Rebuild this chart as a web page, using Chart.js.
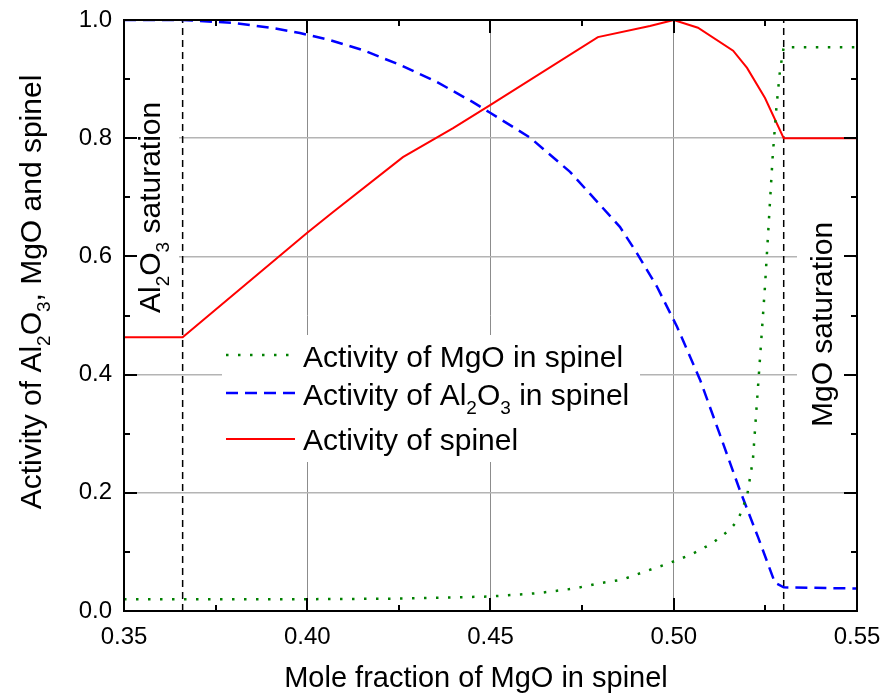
<!DOCTYPE html>
<html>
<head>
<meta charset="utf-8">
<script src="https://cdn.jsdelivr.net/npm/chart.js@4.4.1/dist/chart.umd.min.js"></script>
<style>
  html, body { margin: 0; padding: 0; background: #fff; }
  #wrap { width: 885px; height: 699px; }
</style>
</head>
<body>
<div id="wrap"><canvas id="c" width="885" height="699"></canvas></div>
<script>
// Activity of MgO in spinel
const mgoX = [0.35, 0.366, 0.40, 0.4261, 0.4496, 0.4627, 0.4728, 0.4793, 0.4859, 0.4922, 0.4984, 0.5047,
              0.5104, 0.5154, 0.5176, 0.52, 0.5216, 0.523, 0.5249, 0.527, 0.528, 0.529, 0.53, 0.55];
const mgoY = [0.02, 0.02, 0.02, 0.021, 0.0245, 0.030, 0.038, 0.0465, 0.053, 0.067, 0.080, 0.0955,
              0.114, 0.138, 0.155, 0.194, 0.256, 0.38, 0.55, 0.77, 0.851, 0.915, 0.954, 0.954];

// Activity of Al2O3 in spinel
const alX = [0.35, 0.366, 0.38, 0.39, 0.398, 0.4062, 0.4152, 0.4253, 0.4354, 0.4452, 0.4499, 0.4608,
             0.4717, 0.4799, 0.4853, 0.4899, 0.4954, 0.5009, 0.5072, 0.5125, 0.518, 0.523, 0.5276, 0.53, 0.55];
const alY = [1.0, 1.0, 0.995, 0.987, 0.978, 0.966, 0.949, 0.924, 0.895, 0.861, 0.843, 0.801,
             0.743, 0.687, 0.65, 0.606, 0.549, 0.481, 0.391, 0.30, 0.205, 0.125, 0.048, 0.040, 0.038];

// Activity of spinel
const spX = [0.35, 0.366, 0.40, 0.4068, 0.4261, 0.4398, 0.4499, 0.4793, 0.4935, 0.50,
             0.5066, 0.5162, 0.52, 0.5249, 0.53, 0.55];
const spY = [0.463, 0.463, 0.640, 0.674, 0.768, 0.817, 0.856, 0.971, 0.990, 1.0,
             0.987, 0.948, 0.919, 0.868, 0.80, 0.80];

// Saturation boundaries (Al2O3 side, MgO side)
const satX = [0.366, 0.53];

// Axis ranges and tick steps
const xRange = [0.35, 0.55], xStep = 0.05;
const yRange = [0.0, 1.0], yStep = 0.2;

const FONT = "'Liberation Sans', Arial, Helvetica, sans-serif";
const pts = (xs, ys) => xs.map((x, i) => ({ x: x, y: ys[i] }));

// Text runs: [text, isSubscript]
const yTitle = [['Activity of Al', 0], ['2', 1], ['O', 0], ['3', 1], [', MgO and spinel', 0]];
const xTitle = [['Mole fraction of MgO in spinel', 0]];
const alSatLabel = [['Al', 0], ['2', 1], ['O', 0], ['3', 1], [' saturation', 0]];
const mgoSatLabel = [['MgO saturation', 0]];
const legendItems = [
  { runs: [['Activity of MgO in spinel', 0]], color: '#008000', dash: [2.5, 9.5], width: 2.5 },
  { runs: [['Activity of Al', 0], ['2', 1], ['O', 0], ['3', 1], [' in spinel', 0]], color: '#0000ff', dash: [12, 7], width: 2.5 },
  { runs: [['Activity of spinel', 0]], color: '#ff0000', dash: [], width: 2 }
];

function runsWidth(ctx, runs, size, subSize) {
  let w = 0;
  for (const [t, sub] of runs) {
    ctx.font = (sub ? subSize : size) + 'px ' + FONT;
    w += ctx.measureText(t).width;
  }
  return w;
}
function drawRuns(ctx, runs, x, y, size, subSize, subShift) {
  ctx.textAlign = 'left';
  ctx.textBaseline = 'alphabetic';
  for (const [t, sub] of runs) {
    ctx.font = (sub ? subSize : size) + 'px ' + FONT;
    ctx.fillText(t, x, y + (sub ? subShift : 0));
    x += ctx.measureText(t).width;
  }
}

const decor = {
  id: 'decor',
  beforeDatasetsDraw(chart) {
    const ctx = chart.ctx;
    ctx.save();
    ctx.fillStyle = '#ffffff';
    // label / legend backgrounds
    ctx.fillRect(125, 88, 54, 236);
    ctx.fillRect(797, 205, 58, 240);
    ctx.fillRect(222, 335, 418, 127);
    ctx.restore();
  },
  afterDraw(chart) {
    const ctx = chart.ctx;
    const a = chart.chartArea;
    const xs = chart.scales.x, ys = chart.scales.y;
    ctx.save();
    ctx.strokeStyle = '#000';
    ctx.fillStyle = '#000';

    // ticks pointing inward on all four sides
    ctx.lineWidth = 2;
    ctx.beginPath();
    for (let i = 0; i <= Math.round((xRange[1] - xRange[0]) / xStep * 2); i++) {
      const v = xRange[0] + i * xStep / 2;
      const px = Math.round(xs.getPixelForValue(v));
      const len = i % 2 === 0 ? 13 : 6;
      ctx.moveTo(px, a.bottom); ctx.lineTo(px, a.bottom - len);
      ctx.moveTo(px, a.top); ctx.lineTo(px, a.top + len);
    }
    for (let i = 0; i <= Math.round((yRange[1] - yRange[0]) / yStep * 2); i++) {
      const v = yRange[0] + i * yStep / 2;
      const py = Math.round(ys.getPixelForValue(v));
      const len = i % 2 === 0 ? 13 : 6;
      ctx.moveTo(a.left, py); ctx.lineTo(a.left + len, py);
      ctx.moveTo(a.right, py); ctx.lineTo(a.right - len, py);
    }
    ctx.stroke();

    // frame
    ctx.lineWidth = 2;
    ctx.strokeRect(a.left, a.top, a.right - a.left, a.bottom - a.top);

    // axis titles
    ctx.fillStyle = '#000';
    const xw = runsWidth(ctx, xTitle, 29, 19);
    drawRuns(ctx, xTitle, 476 - xw / 2, 687, 29, 19, 9);

    ctx.save();
    ctx.translate(41, 292);
    ctx.rotate(-Math.PI / 2);
    const yw = runsWidth(ctx, yTitle, 30, 19);
    drawRuns(ctx, yTitle, -yw / 2, 0, 30, 19, 9);
    ctx.restore();

    // saturation labels
    ctx.save();
    ctx.translate(160, 313);
    ctx.rotate(-Math.PI / 2);
    drawRuns(ctx, alSatLabel, 0, 0, 30, 19, 9);
    ctx.restore();

    ctx.save();
    ctx.translate(832, 427);
    ctx.rotate(-Math.PI / 2);
    drawRuns(ctx, mgoSatLabel, 0, 0, 30, 19, 9);
    ctx.restore();

    // legend
    const rows = [{ ly: 355, ty: 367 }, { ly: 393, ty: 405 }, { ly: 439, ty: 450 }];
    legendItems.forEach((it, i) => {
      ctx.save();
      ctx.strokeStyle = it.color;
      ctx.lineWidth = it.width;
      ctx.setLineDash(it.dash);
      ctx.beginPath();
      ctx.moveTo(226, rows[i].ly);
      ctx.lineTo(295, rows[i].ly);
      ctx.stroke();
      ctx.restore();
      ctx.fillStyle = '#000';
      drawRuns(ctx, it.runs, 303, rows[i].ty, 30, 19, 9);
    });
    ctx.restore();
  }
};

const gridColor = (min, max, col) => (c) => {
  const v = c.tick ? c.tick.value : null;
  if (v === null || Math.abs(v - min) < 1e-6 || Math.abs(v - max) < 1e-6) return 'rgba(0,0,0,0)';
  return col;
};

new Chart(document.getElementById('c'), {
  type: 'line',
  data: {
    datasets: [
      { label: 'Activity of MgO in spinel', data: pts(mgoX, mgoY), borderColor: '#008000',
        borderWidth: 2.5, borderDash: [2.5, 9.5], pointRadius: 0, fill: false, tension: 0 },
      { label: 'Activity of Al2O3 in spinel', data: pts(alX, alY), borderColor: '#0000ff',
        borderWidth: 2.5, borderDash: [12, 7], pointRadius: 0, fill: false, tension: 0 },
      { label: 'Activity of spinel', data: pts(spX, spY), borderColor: '#ff0000',
        borderWidth: 2, pointRadius: 0, fill: false, tension: 0 },
      { label: 'Al2O3 saturation', data: pts([satX[0], satX[0]], yRange), borderColor: '#000',
        borderWidth: 1.5, borderDash: [7, 5], pointRadius: 0, fill: false },
      { label: 'MgO saturation', data: pts([satX[1], satX[1]], yRange), borderColor: '#000',
        borderWidth: 1.5, borderDash: [7, 5], pointRadius: 0, fill: false }
    ]
  },
  options: {
    responsive: false,
    animation: false,
    events: [],
    layout: { padding: { left: 0, top: 20, right: 28, bottom: 0 } },
    plugins: { legend: { display: false }, tooltip: { enabled: false } },
    scales: {
      x: {
        type: 'linear', min: xRange[0], max: xRange[1],
        afterFit: (s) => { s.height = 88; s.paddingLeft = 0; s.paddingRight = 0; },
        border: { display: false },
        grid: { drawTicks: false, color: gridColor(xRange[0], xRange[1], '#8c8c8c'), lineWidth: 1 },
        ticks: { stepSize: xStep, padding: 12, color: '#000',
                 font: { family: FONT, size: 24 },
                 callback: (v) => Number(v).toFixed(2) }
      },
      y: {
        type: 'linear', min: yRange[0], max: yRange[1],
        afterFit: (s) => { s.width = 124; s.paddingTop = 0; s.paddingBottom = 0; },
        border: { display: false },
        grid: { drawTicks: false, color: gridColor(yRange[0], yRange[1], '#b4b4b4'), lineWidth: 1.5 },
        ticks: { stepSize: yStep, padding: 12, color: '#000',
                 font: { family: FONT, size: 24 },
                 callback: (v) => Number(v).toFixed(1) }
      }
    }
  },
  plugins: [decor]
});
</script>
</body>
</html>
